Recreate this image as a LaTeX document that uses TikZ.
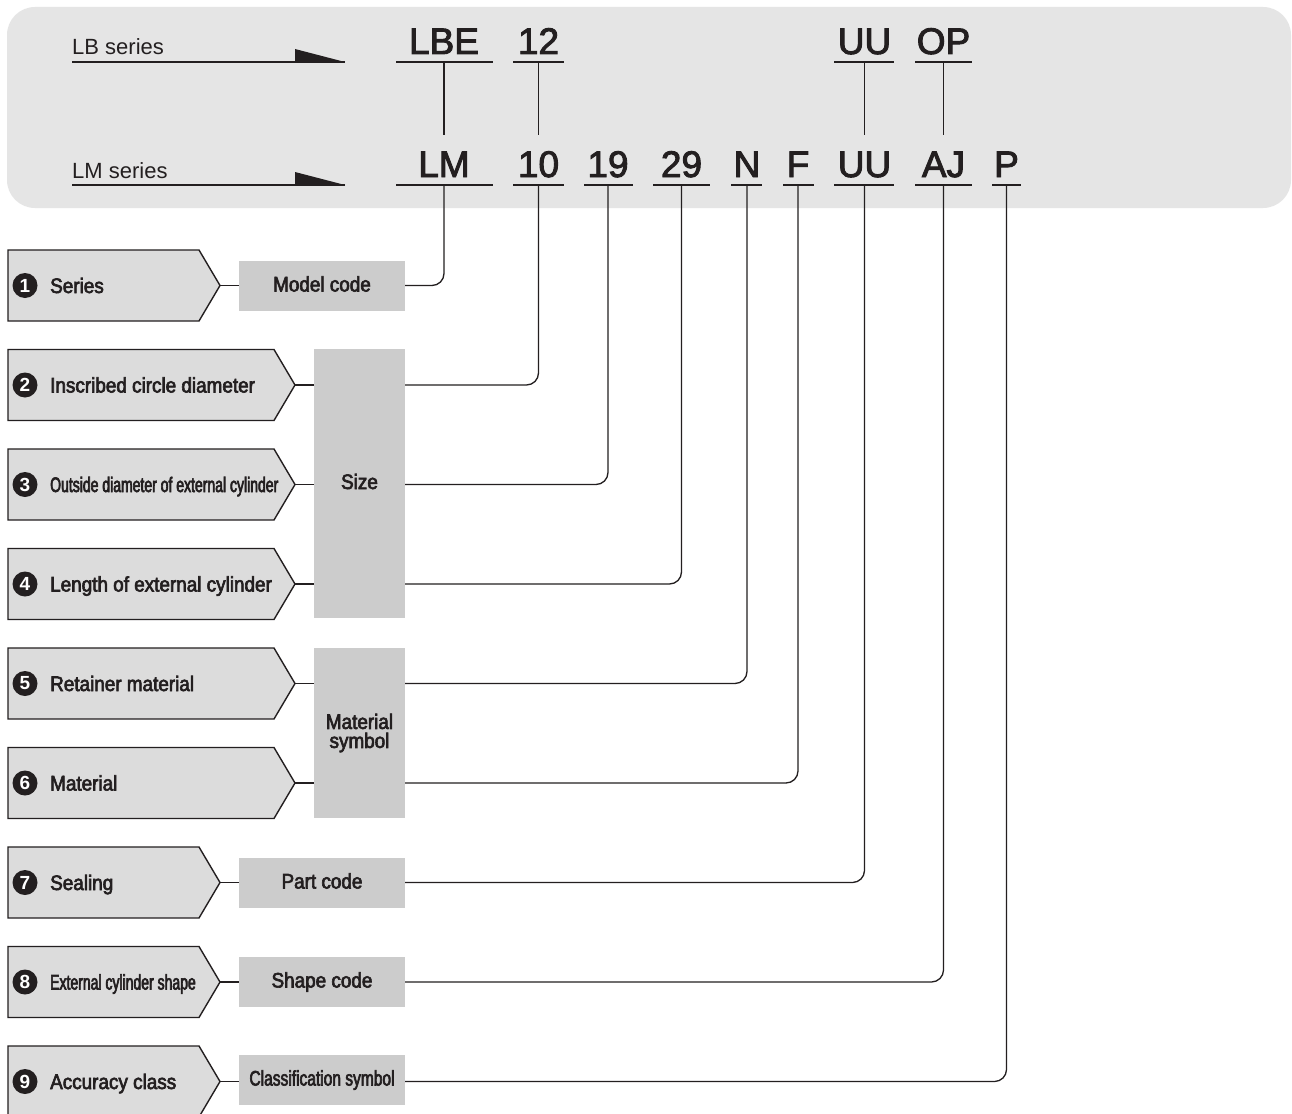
\documentclass[tikz,border=0pt]{standalone}
\usepackage{fontspec}
\setmainfont{Liberation Sans}
\newfontfamily\labf[FakeStretch=0.9,FakeBold=3]{Liberation Sans}
\newfontfamily\condB[FakeStretch=0.667,FakeBold=3]{Liberation Sans}
\newfontfamily\condC[FakeStretch=0.74,FakeBold=3]{Liberation Sans}
\newfontfamily\codef[FakeBold=2.5]{Liberation Sans}
\definecolor{panelgray}{HTML}{E5E5E5}
\definecolor{pentgray}{HTML}{DCDCDC}
\definecolor{boxgray}{HTML}{CCCCCC}
\definecolor{ink}{HTML}{231F20}
\tikzset{
  pentagon/.style={fill=pentgray,draw=ink,line width=1.4pt,line join=miter},
  numdot/.style={circle,fill=ink,text=white,minimum size=25pt,inner sep=0pt,font=\fontsize{19}{19}\selectfont\bfseries},
  plabel/.style={anchor=base west,inner sep=0pt,text=ink,font=\labf\fontsize{21}{22}\selectfont},
  gbox/.style={fill=boxgray,inner sep=0pt,text=ink,font=\labf\fontsize{21}{19}\selectfont,align=center},
  conn/.style={draw=ink,line width=1.3pt,rounded corners=12pt},
  uline/.style={draw=ink,line width=1.6pt},
  codefont/.style={inner sep=0pt,text=ink,font=\codef\fontsize{37}{40}\selectfont},
  serieslab/.style={anchor=base west,inner sep=0pt,text=ink,font=\fontsize{22}{24}\selectfont},
}
\newcommand\pent[5]{%
  \draw[pentagon] (8,#3-35.5) -- (#2,#3-35.5) -- (#2+21,#3) -- (#2,#3+35.5) -- (8,#3+35.5) -- cycle;
  \coordinate (#1) at (#2+21,#3);
  \node[numdot] (#1n) at (25,#3) {#4};
  \node[plabel] (#1t) at (50,#3+7.5) {#5};
}
\newcommand\codeitem[6]{%
  \node[codefont,anchor=base] (#1t) at (#2,#3) {#6};
  \draw[uline] (#4,#3+8) -- (#5,#3+8);
  \coordinate (#1) at (#2,#3+8);
}
\begin{document}
\begin{tikzpicture}[x=1pt,y=-1pt]
\useasboundingbox (0,0) rectangle (1292,1113);
\fill[white] (0,0) rectangle (1292,1113);
% top panel
\fill[panelgray,rounded corners=28pt] (7,7) rectangle (1291,208);
% series arrows
\node[serieslab] (lbs) at (72,55) {LB series};
\coordinate (lba) at (72,62);
\coordinate (lbb) at (345,62);
\draw[uline] (lba) -- (lbb);
\fill[ink] (295,49) -- (lbb) -- (295,62) -- cycle;
\node[serieslab] (lms) at (72,178) {LM series};
\coordinate (lma) at (72,185);
\coordinate (lmb) at (345,185);
\draw[uline] (lma) -- (lmb);
\fill[ink] (295,172) -- (lmb) -- (295,185) -- cycle;
% top row codes
\codeitem{tLBE}{444}{54}{396}{493}{LBE}
\codeitem{t12}{538.5}{54}{513}{564}{12}
\codeitem{tUU}{864.5}{54}{834}{894}{UU}
\codeitem{tOP}{943.5}{54}{915}{972}{OP}
% bottom row codes
\codeitem{bLM}{444}{177}{396}{493}{LM}
\codeitem{b10}{538.5}{177}{513}{564}{10}
\codeitem{b19}{608}{177}{584}{633}{19}
\codeitem{b29}{681.5}{177}{653}{710}{29}
\codeitem{bN}{747}{177}{731}{762}{N}
\codeitem{bF}{798}{177}{783}{814}{F}
\codeitem{bUU}{864.5}{177}{834}{894}{UU}
\codeitem{bAJ}{943.5}{177}{915}{972}{AJ}
\codeitem{bP}{1006.5}{177}{992}{1021}{P}
% links between rows
\coordinate (eLBE) at (444,135);
\coordinate (e12) at (538.5,135);
\coordinate (eUU) at (864.5,135);
\coordinate (eOP) at (943.5,135);
\draw[conn] (tLBE) -- (eLBE);
\draw[conn] (t12) -- (e12);
\draw[conn] (tUU) -- (eUU);
\draw[conn] (tOP) -- (eOP);
% pentagons
\pent{p1}{199}{285.5}{1}{Series}
\pent{p2}{274}{385}{2}{Inscribed circle diameter}
\pent{p3}{274}{484.5}{3}{\condB Outside diameter of external cylinder}
\pent{p4}{274}{584}{4}{Length of external cylinder}
\pent{p5}{274}{683.5}{5}{Retainer material}
\pent{p6}{274}{783}{6}{Material}
\pent{p7}{199}{882.5}{7}{Sealing}
\pent{p8}{199}{982}{8}{\condB External cylinder shape}
\pent{p9}{199}{1081.5}{9}{Accuracy class}
% gray boxes
\node[gbox,minimum width=166pt,minimum height=50pt,text height=15pt,text depth=4pt] (mc) at (322,286) {Model code};
\node[gbox,minimum width=91pt,minimum height=269pt,text height=15pt,text depth=4pt] (size) at (359.5,483.5) {Size};
\node[gbox,minimum width=91pt,minimum height=170pt] (mat) at (359.5,733) {Material\\symbol};
\node[gbox,minimum width=166pt,minimum height=50pt,text height=15pt,text depth=4pt] (pc) at (322,883) {Part code};
\node[gbox,minimum width=166pt,minimum height=50pt,text height=15pt,text depth=4pt] (sc) at (322,982) {Shape code};
\node[gbox,minimum width=166pt,minimum height=50pt,text height=15pt,text depth=4pt,font=\condC\fontsize{21}{20}\selectfont] (cs) at (322,1080) {Classification symbol};
% left connectors
\draw[conn] (p1) -- (p1 -| mc.west);
\draw[conn] (p2) -- (p2 -| size.west);
\draw[conn] (p3) -- (p3 -| size.west);
\draw[conn] (p4) -- (p4 -| size.west);
\draw[conn] (p5) -- (p5 -| mat.west);
\draw[conn] (p6) -- (p6 -| mat.west);
\draw[conn] (p7) -- (p7 -| pc.west);
\draw[conn] (p8) -- (p8 -| sc.west);
\draw[conn] (p9) -- (p9 -| cs.west);
% right connectors
\draw[conn] (p1 -| mc.east) -| (bLM);
\draw[conn] (p2 -| size.east) -| (b10);
\draw[conn] (p3 -| size.east) -| (b19);
\draw[conn] (p4 -| size.east) -| (b29);
\draw[conn] (p5 -| mat.east) -| (bN);
\draw[conn] (p6 -| mat.east) -| (bF);
\draw[conn] (p7 -| pc.east) -| (bUU);
\draw[conn] (p8 -| sc.east) -| (bAJ);
\draw[conn] (p9 -| cs.east) -| (bP);
\end{tikzpicture}
\end{document}
